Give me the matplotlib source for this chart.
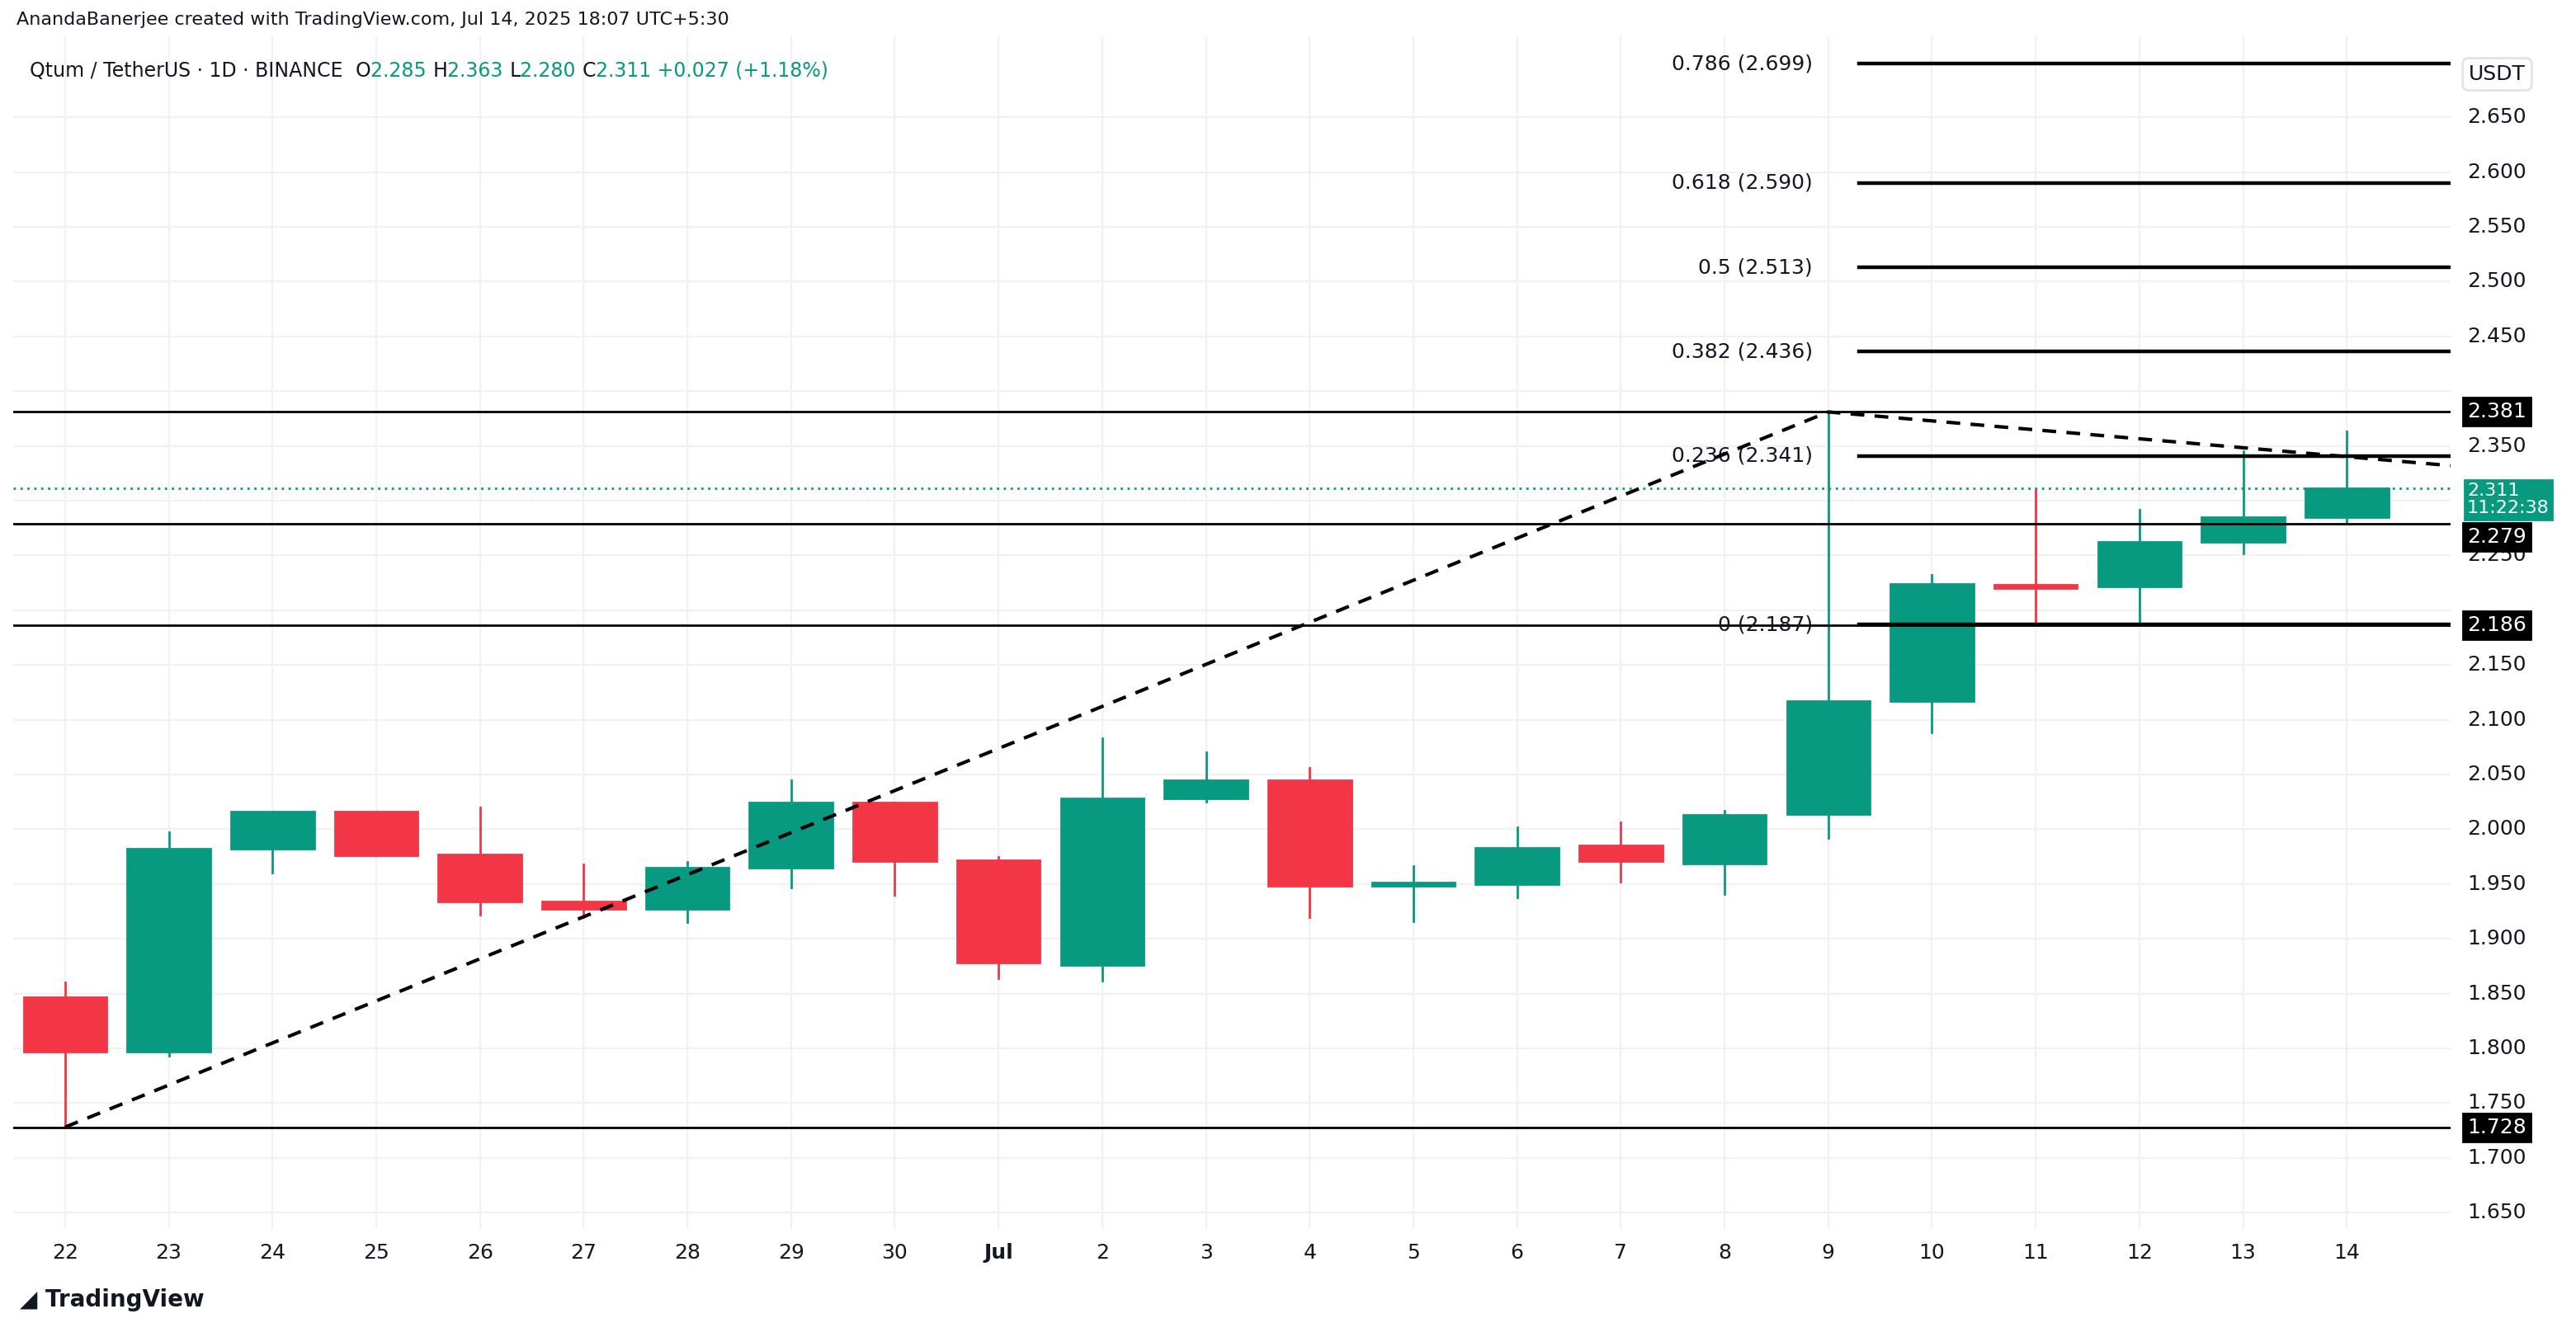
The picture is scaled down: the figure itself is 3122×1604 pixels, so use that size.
import matplotlib
matplotlib.use("Agg")
import matplotlib.pyplot as plt
from matplotlib.patches import Rectangle

dates = ["22","23","24","25","26","27","28","29","30","Jul","2","3","4","5","6","7","8","9","10","11","12","13","14"]
opens  = [1.847,1.797,1.982,2.016,1.977,1.934,1.927,1.965,2.024,1.972,1.876,2.028,2.045,1.948,1.950,1.985,1.969,2.014,2.117,2.222,2.222,2.262,2.285]
highs  = [1.860,1.997,2.016,2.016,2.020,1.968,1.970,2.045,2.024,1.975,2.083,2.070,2.056,1.966,2.002,2.006,2.017,2.381,2.232,2.310,2.292,2.345,2.363]
lows   = [1.728,1.793,1.960,1.976,1.922,1.920,1.915,1.947,1.940,1.864,1.862,2.025,1.920,1.916,1.938,1.952,1.941,1.992,2.088,2.186,2.188,2.252,2.280]
closes = [1.797,1.982,2.016,1.976,1.934,1.927,1.965,2.024,1.971,1.878,2.028,2.045,1.948,1.951,1.983,1.971,2.013,2.117,2.224,2.220,2.262,2.285,2.311]
fib_ratios = ["0.786","0.618","0.5","0.382","0.236","0"]
fib_prices = [2.699,2.590,2.513,2.436,2.341,2.187]
levels = [2.381,2.279,2.186,1.728]
trend_x = [0,17,23]
trend_y = [1.728,2.381,2.332]
last_price = 2.311
yticks = [1.65+0.05*i for i in range(21)]

GREEN = "#089981"; RED = "#F23645"
W, H = 1561, 802
fig = plt.figure(figsize=(15.61, 8.02), dpi=200)
ax = fig.add_axes([8/W, 1-745/H, (1485-8)/W, (745-22)/H])
ax.set_xlim(-0.5, 23.0)
ax.set_ylim(1.635, 2.724)
for s in ax.spines.values():
    s.set_visible(False)
ax.set_xticks(range(len(dates)))
ax.set_xticklabels(dates, fontsize=9, color="#131722")
for t in ax.get_xticklabels():
    if t.get_text() == "Jul":
        t.set_fontweight("bold")
ax.tick_params(axis="x", length=0, pad=6)
ax.set_yticks(yticks)
ax.set_yticklabels([])
ax.tick_params(axis="y", length=0)
ax.grid(True, color="#f0f1f3", lw=0.8)
ax.set_axisbelow(True)

for i, (o, h, l, c) in enumerate(zip(opens, highs, lows, closes)):
    col = GREEN if c >= o else RED
    ax.plot([i, i], [l, h], color=col, lw=1, zorder=2)
    b = min(o, c); hh = max(abs(c - o), 0.003)
    ax.add_patch(Rectangle((i - 0.4, b), 0.8, hh, color=col, zorder=3))

for lv in levels:
    ax.axhline(lv, color="black", lw=1, zorder=4)
ax.axhline(last_price, color=GREEN, lw=1, ls=(0, (1, 2)), zorder=4)
for r, p in zip(fib_ratios, fib_prices):
    ax.plot([17.3, 23.0], [p, p], color="black", lw=1.6, zorder=4)
    ax.text(16.85, p, f"{r} ({p:.3f})", ha="right", va="center", fontsize=9, color="#131722", zorder=5)
ax.plot(trend_x, trend_y, color="black", lw=1.5, ls=(0, (4, 3)), zorder=5)

xr = 1.0 + 10/W * 1.06
for yv in yticks:
    if all(abs(yv - lv) > 0.02 for lv in levels) and abs(yv - last_price) > 0.03 and yv <= 2.66:
        ax.text(xr, yv, f"{yv:.3f}", transform=ax.get_yaxis_transform(),
                ha="left", va="center", fontsize=9, color="#131722")
for lv in levels:
    yl = lv - 0.012 if lv == 2.279 else lv
    ax.text(xr, yl, f"{lv:.3f}", transform=ax.get_yaxis_transform(), ha="left", va="center",
            fontsize=9, color="white", bbox=dict(boxstyle="square,pad=0.2", fc="black", ec="black"))
ax.text(xr, last_price - 0.01, f"{last_price:.3f}\n11:22:38", transform=ax.get_yaxis_transform(),
        ha="left", va="center", fontsize=8, color="white", linespacing=1.1,
        bbox=dict(boxstyle="square,pad=0.15", fc=GREEN, ec=GREEN), zorder=6)
fig.text(1496/W, 1-45/H, "USDT", fontsize=9, color="#131722", va="center",
         bbox=dict(boxstyle="round,pad=0.3", fc="white", ec="#e0e3eb"))

fig.text(10/W, 1-12/H, "AnandaBanerjee created with TradingView.com, Jul 14, 2025 18:07 UTC+5:30",
         fontsize=8, color="#131722", va="center")
hdr = [("Qtum / TetherUS · 1D · BINANCE  ", "#131722"), ("O", "#131722"), ("2.285 ", GREEN), ("H", "#131722"),
       ("2.363 ", GREEN), ("L", "#131722"), ("2.280 ", GREEN), ("C", "#131722"), ("2.311 +0.027 (+1.18%)", GREEN)]
x = 18/W
rend = fig.canvas.get_renderer()
for s, c in hdr:
    t = fig.text(x, 1-43/H, s, fontsize=8.5, color=c, va="center")
    bb = t.get_window_extent(renderer=rend)
    x += bb.width / fig.bbox.width
fig.text(12/W, 1-788/H, "◢ TradingView", fontsize=10, fontweight="bold", color="#131722", va="center")
fig.savefig("out.png", dpi=200, facecolor="white")
